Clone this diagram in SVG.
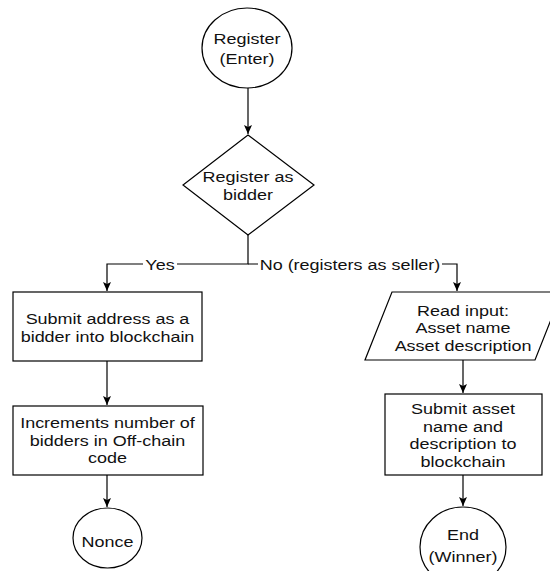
<svg xmlns="http://www.w3.org/2000/svg" width="550" height="571" viewBox="0 0 550 571">
<style>
.s{fill:#fff;stroke:#000;stroke-width:1.2}
.c{fill:none;stroke:#000;stroke-width:1.2}
.t{font-family:"Liberation Sans",Arial,Helvetica,sans-serif;font-size:15.5px;fill:#111;text-anchor:middle}
</style>
<defs>
<marker id="ah" markerUnits="userSpaceOnUse" markerWidth="10" markerHeight="10" refX="9" refY="5" orient="auto">
<path d="M0,1 L9,5 L0,9 L2,5 z" fill="#000"/>
</marker>
</defs>
<rect width="550" height="571" fill="#fff"/>
<g id="connectors">
<path class="c" d="M248,88 V134" marker-end="url(#ah)"/>
<path class="c" d="M248,235 V264 H107 V291" marker-end="url(#ah)"/>
<path class="c" d="M248,264 H457 V291" marker-end="url(#ah)"/>
<path class="c" d="M107,361 V405" marker-end="url(#ah)"/>
<path class="c" d="M107,475 V507" marker-end="url(#ah)"/>
<path class="c" d="M463,360 V393" marker-end="url(#ah)"/>
<path class="c" d="M463,475 V506" marker-end="url(#ah)"/>
<rect x="143" y="256" width="34" height="16" fill="#fff"/>
<text class="t" transform="translate(160,270) scale(1.16,1)">Yes</text>
<rect x="258" y="256" width="184" height="16" fill="#fff"/>
<text class="t" transform="translate(350,270) scale(1.16,1)">No (registers as seller)</text>
</g>
<g id="start">
<ellipse class="s" cx="247" cy="48" rx="45" ry="40"/>
<text class="t" transform="translate(247,44) scale(1.16,1)"><tspan x="0">Register</tspan><tspan x="0" dy="20">(Enter)</tspan></text>
</g>
<g id="decision">
<polygon class="s" points="248,135 314,185 248,235 183,185"/>
<text class="t" transform="translate(248,182) scale(1.16,1)"><tspan x="0">Register as</tspan><tspan x="0" dy="18">bidder</tspan></text>
</g>
<g id="submit-address">
<rect class="s" x="13" y="292" width="189" height="69"/>
<text class="t" transform="translate(107.5,324) scale(1.16,1)"><tspan x="0">Submit address as a</tspan><tspan x="0" dy="18">bidder into blockchain</tspan></text>
</g>
<g id="increment">
<rect class="s" x="13" y="406" width="190" height="69"/>
<text class="t" transform="translate(107.5,428) scale(1.16,1)"><tspan x="0">Increments number of</tspan><tspan x="0" dy="18">bidders in Off-chain</tspan><tspan x="0" dy="17.5">code</tspan></text>
</g>
<g id="nonce">
<ellipse class="s" cx="107.5" cy="538" rx="34.5" ry="30"/>
<text class="t" transform="translate(107.5,547) scale(1.16,1)">Nonce</text>
</g>
<g id="read-input">
<polygon class="s" points="392,292 562,292 535,360 365,360"/>
<text class="t" transform="translate(463,316) scale(1.16,1)"><tspan x="0">Read input:</tspan><tspan x="0" dy="17.5">Asset name</tspan><tspan x="0" dy="17.5">Asset description</tspan></text>
</g>
<g id="submit-asset">
<rect class="s" x="385" y="394" width="157" height="81"/>
<text class="t" transform="translate(463,414) scale(1.16,1)"><tspan x="0">Submit asset</tspan><tspan x="0" dy="18">name and</tspan><tspan x="0" dy="17.5">description to</tspan><tspan x="0" dy="17.5">blockchain</tspan></text>
</g>
<g id="end">
<ellipse class="s" cx="463" cy="547" rx="43" ry="40"/>
<text class="t" transform="translate(463,540) scale(1.16,1)"><tspan x="0">End</tspan><tspan x="0" dy="22">(Winner)</tspan></text>
</g>
</svg>
